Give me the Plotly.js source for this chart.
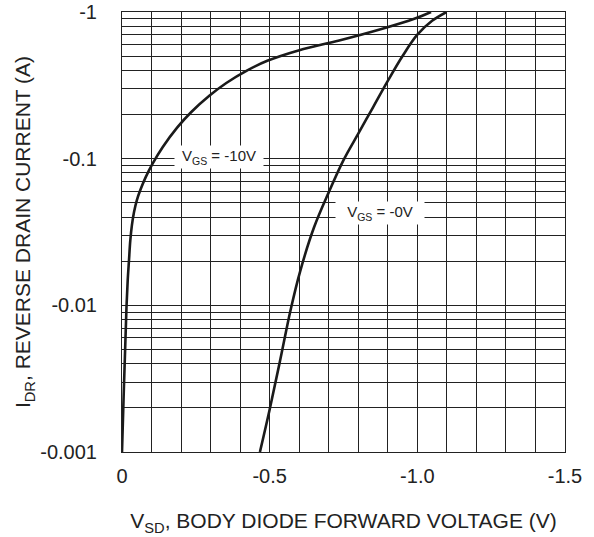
<!DOCTYPE html>
<html>
<head>
<meta charset="utf-8">
<script src="https://cdn.plot.ly/plotly-3.0.1.min.js"></script>
<style>html,body{margin:0;padding:0;background:#fff;}#chart{width:594px;height:537px;}</style>
</head>
<body>
<div id="chart"></div>
<script>
// V_GS = -10V curve: V_SD (V) and |I_DR| (A)
var vsdGs10 = [0, -0.0051, -0.0105, -0.0152, -0.0193, -0.0237, -0.0281, -0.0335, -0.0406, -0.0501, -0.063, -0.0799, -0.1036, -0.1375, -0.1873, -0.2347, -0.2956, -0.3532, -0.4243, -0.492, -0.6004, -0.7355, -0.8815, -0.9898, -1.0464];
var idrGs10 = [0.001, 0.00225, 0.00493, 0.00973, 0.0148, 0.0203, 0.0277, 0.0351, 0.0431, 0.052, 0.0618, 0.0746, 0.0925, 0.1197, 0.1634, 0.2081, 0.2685, 0.3281, 0.3999, 0.4648, 0.5495, 0.6398, 0.7691, 0.8995, 1.0];
// V_GS = -0V curve
var vsdGs0 = [-0.467, -0.50, -0.535, -0.571, -0.603, -0.65, -0.70, -0.75, -0.80, -0.85, -0.90, -0.95, -1.00, -1.05, -1.099];
var idrGs0 = [0.001, 0.00195, 0.00417, 0.00933, 0.0170, 0.0339, 0.0589, 0.0977, 0.148, 0.224, 0.339, 0.501, 0.700, 0.871, 1.0];

var xTickVals = [0, -0.5, -1.0, -1.5];
var xTickText = ['0', '-0.5', '-1.0', '-1.5'];
var yTickVals = [0.001, 0.01, 0.1, 1];
var yTickText = ['-0.001', '-0.01', '-0.1', '-1'];
var yMinorVals = [];
[0.001, 0.01, 0.1].forEach(function (d) { for (var k = 2; k <= 9; k++) yMinorVals.push(+(d * k).toPrecision(3)); });

var labels = ['V<sub>GS</sub> = -10V', 'V<sub>GS</sub> = -0V'];
var labelX = [-0.327, -0.874];
var labelY = [0.102, 0.0423];

var gridCol = '#222';
var font = {family: 'Liberation Sans, Arial, sans-serif', color: '#222'};

var data = [
  {x: vsdGs10, y: idrGs10},
  {x: vsdGs0, y: idrGs0}
].map(function (t) {
  t.mode = 'lines';
  t.line = {color: '#1a1a1a', width: 2.6, shape: 'spline', smoothing: 1};
  t.showlegend = false;
  t.hoverinfo = 'skip';
  return t;
});

var layout = {
  width: 594, height: 537,
  margin: {l: 122, r: 29, t: 12, b: 85},
  paper_bgcolor: '#fff', plot_bgcolor: '#fff',
  showlegend: false,
  xaxis: {
    range: [0, -1.5],
    tickmode: 'array', tickvals: xTickVals, ticktext: xTickText,
    ticks: 'outside', ticklen: 0, ticklabelstandoff: 6,
    tickfont: {family: font.family, color: font.color, size: 20},
    showgrid: true, gridcolor: gridCol, gridwidth: 1,
    minor: {dtick: 0.1, tick0: 0, showgrid: true, gridcolor: gridCol, gridwidth: 1, ticks: ''},
    showline: true, mirror: true, linecolor: gridCol, linewidth: 1,
    zeroline: false, fixedrange: true,
    title: {text: 'V<sub>SD</sub>, BODY DIODE FORWARD VOLTAGE (V)', font: {family: font.family, color: font.color, size: 21}, standoff: 27},
    automargin: false
  },
  yaxis: {
    type: 'log', range: [-3, 0],
    tickmode: 'array', tickvals: yTickVals, ticktext: yTickText,
    ticks: 'outside', ticklen: 0, ticklabelstandoff: 20,
    tickfont: {family: font.family, color: font.color, size: 20},
    showgrid: true, gridcolor: gridCol, gridwidth: 1,
    minor: {tickmode: 'array', tickvals: yMinorVals, showgrid: true, gridcolor: gridCol, gridwidth: 1, ticks: ''},
    showline: true, mirror: true, linecolor: gridCol, linewidth: 1,
    zeroline: false, fixedrange: true,
    title: {text: 'I<sub>DR</sub>, REVERSE DRAIN CURRENT (A)', font: {family: font.family, color: font.color, size: 21}, standoff: 3},
    automargin: false
  },
  annotations: labels.map(function (txt, i) {
    return {x: labelX[i], y: Math.log10(labelY[i]), xref: 'x', yref: 'y', text: txt, showarrow: false,
      bgcolor: '#fff', borderpad: 2, width: 84, height: 18,
      font: {family: font.family, color: font.color, size: 15}};
  })
};

Plotly.newPlot('chart', data, layout, {staticPlot: true, displayModeBar: false});
</script>
</body>
</html>
